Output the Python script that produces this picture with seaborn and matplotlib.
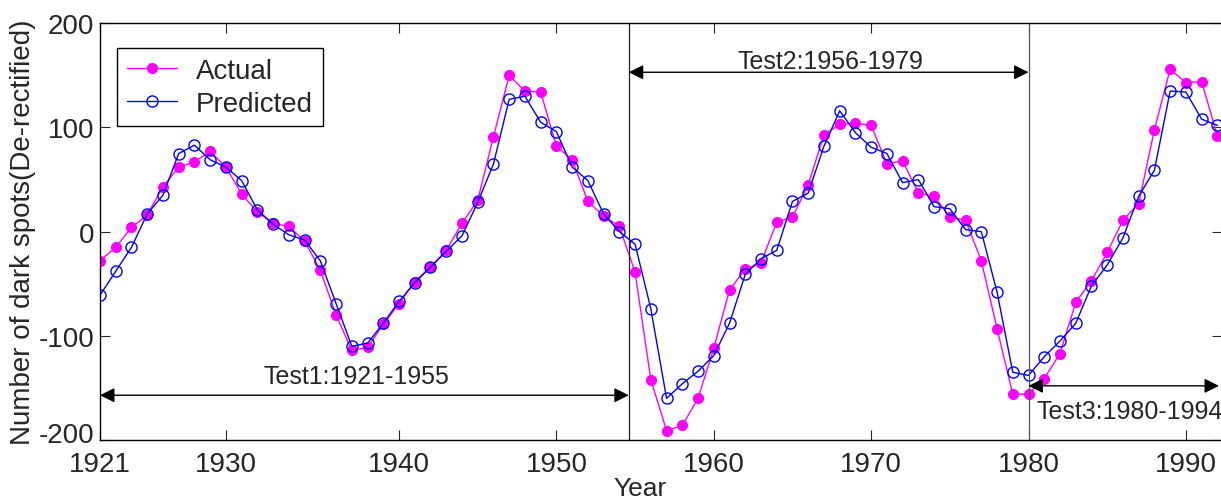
import numpy as np
import pandas as pd
import matplotlib
matplotlib.use('Agg')
import matplotlib.pyplot as plt
from matplotlib.transforms import ScaledTranslation
import seaborn as sns

# datos (un punto por anio)
years = list(range(1921, 1993))
actual = [-28, -15, 4, 16, 43, 62, 67, 77, 62, 36,
          19, 8, 5, -9, -37, -80, -114, -111, -89, -69,
          -48, -34, -18, 8, 30, 91, 150, 135, 134, 82,
          69, 29, 15, 5, -39, -142, -191, -186, -160, -112,
          -56, -36, -30, 9, 14, 45, 93, 103, 104, 102,
          65, 68, 37, 34, 14, 11, -28, -93, -156, -156,
          -141, -117, -68, -47, -20, 11, 27, 98, 156, 143,
          144, 92]
predicted = [-61, -38, -15, 17, 35, 75, 83, 69, 62, 49,
             21, 7, -3, -8, -28, -69, -110, -107, -88, -67,
             -49, -34, -19, -4, 28, 65, 127, 130, 105, 96,
             62, 49, 17, 0, -12, -74, -160, -146, -134, -119,
             -88, -41, -26, -18, 29, 37, 82, 116, 95, 81,
             75, 47, 50, 24, 22, 2, 0, -58, -135, -138,
             -120, -105, -88, -52, -32, -6, 34, 59, 135, 134,
             108, 102]

tick_pos = [1921, 1929, 1940, 1950, 1960, 1970, 1980, 1990]
tick_labels = ['1921', '1930', '1940', '1950', '1960', '1970', '1980', '1990']

df = pd.DataFrame({'Year': years, 'Actual': actual, 'Predicted': predicted})

sns.set_style('ticks')
plt.rcParams['font.family'] = ['Liberation Sans', 'DejaVu Sans']
plt.rcParams['axes.unicode_minus'] = False

fig = plt.figure(figsize=(12.21, 5.02), dpi=100)
ax = fig.add_axes([0.0819, 0.1215, 0.9190, 0.8301])

sns.lineplot(data=df, x='Year', y='Actual', ax=ax, color='#FF00FF', lw=1,
             marker='o', markersize=7, markerfacecolor='#FF00FF',
             markeredgecolor='#FF00FF', markeredgewidth=1, label='Actual')
sns.lineplot(data=df, x='Year', y='Predicted', ax=ax, color='#0000FF', lw=1,
             marker='o', markersize=8, markerfacecolor='none',
             markeredgecolor='#0000FF', markeredgewidth=1, label='Predicted')

# separaciones de los periodos de prueba
ax.axvline(1954.6, color='#222222', lw=0.9)
ax.axvline(1980, color='#555555', lw=0.9)

arrow = dict(arrowstyle='<|-|>', color='k', lw=1, mutation_scale=22,
             shrinkA=0, shrinkB=0)
ax.annotate('', xy=(1921, -157), xytext=(1954.6, -157), arrowprops=arrow)
ax.annotate('', xy=(1954.6, 153), xytext=(1980, 153), arrowprops=arrow)
ax.annotate('', xy=(1980, -148), xytext=(1992.1, -148), arrowprops=arrow,
            annotation_clip=False)
ax.text(1937.3, -139, 'Test1:1921-1955', fontsize=18, ha='center', va='center')
ax.text(1967.4, 164, 'Test2:1956-1979', fontsize=18, ha='center', va='center')
ax.text(1980.5, -172, 'Test3:1980-1994', fontsize=18, ha='left', va='center')

ax.set_xlim(1921, 1992.3)
ax.set_ylim(-200, 200)
ax.set_xticks(tick_pos)
ax.set_xticklabels(tick_labels)
ax.set_yticks([-200, -100, 0, 100, 200])
ax.tick_params(direction='in', length=7, width=0.8, top=True, right=True,
               labelsize=20)
ax.tick_params(axis='x', pad=8)
ax.tick_params(axis='y', pad=4)
for s in ax.spines.values():
    s.set_linewidth(1.0)
    s.set_color('k')

# subir un poco la etiqueta -200 para que no choque con 1921
lbl = ax.get_yticklabels()[0]
lbl.set_transform(lbl.get_transform() + ScaledTranslation(0, 6/72, fig.dpi_scale_trans))

ax.set_xlabel('')
fig.text(0.524, 0.001, 'Year', fontsize=19, ha='center', va='bottom')
ax.set_ylabel('Number of dark spots(De-rectified)', fontsize=20, labelpad=2)

leg = ax.legend(loc='upper left', bbox_to_anchor=(0.015, 0.941), borderaxespad=0,
                fontsize=20, frameon=True, fancybox=False, edgecolor='k',
                handlelength=1.8, handletextpad=0.7, borderpad=0.35,
                labelspacing=0.25)
leg.get_frame().set_linewidth(1.0)
leg.get_frame().set_alpha(1)

plt.savefig('out.png', dpi=100)
